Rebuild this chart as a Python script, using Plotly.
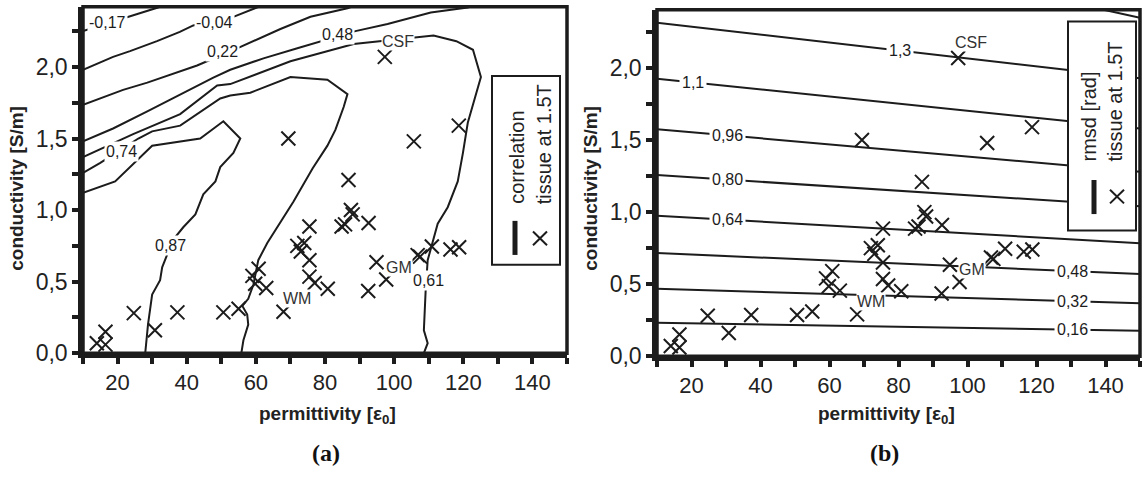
import numpy as np
import plotly.graph_objects as go

# ---------------- tissue samples (permittivity in eps0, conductivity in S/m)
PERMITTIVITY = [14.0, 16.5, 16.5, 24.7, 30.8, 37.3, 50.6, 55.0, 59.0, 60.8,
                59.8, 63.0, 68.0, 69.4, 72.0, 73.0, 74.0, 75.5, 75.5, 75.5,
                77.0, 80.8, 84.8, 85.8, 87.5, 88.0, 86.8, 92.6, 92.5, 94.9,
                97.7, 97.3, 105.7, 106.8, 107.5, 110.9, 116.3, 118.8, 118.7]
CONDUCTIVITY = [0.07, 0.15, 0.06, 0.28, 0.16, 0.285, 0.285, 0.31, 0.54, 0.59,
                0.485, 0.455, 0.29, 1.50, 0.75, 0.71, 0.77, 0.65, 0.885, 0.535,
                0.49, 0.45, 0.885, 0.90, 1.00, 0.97, 1.21, 0.91, 0.435, 0.635,
                0.515, 2.07, 1.48, 0.685, 0.675, 0.745, 0.725, 0.74, 1.59]

TISSUE_NAMES = ["CSF", "GM", "WM"]
TISSUE_NAME_PERM = [101.0, 101.3, 72.0]
TISSUE_NAME_COND = [2.18, 0.60, 0.38]

# ---------------- correlation iso-lines (panel a)
CORR_LEVELS = [-0.17, -0.04, 0.22, 0.48, 0.61, 0.74, 0.87]
CORR_PATH_PERM = [
    [10, 23.6, 31.7, 35],
    [10, 18.7, 23.6, 31.4, 38, 41.9, 53.5, 60.4, 64],
    [10, 21.6, 28.6, 36.1, 43, 54.6, 67.1, 75.8, 86.5, 90],
    [10, 18.7, 28.6, 36.7, 47.7, 52.6, 62.2, 72, 78.7, 88.8, 98.1, 110.6, 121.3, 125],
    [10, 24.5, 38.1, 48.8, 52.6, 70, 88.3, 107.7, 111.4, 118, 122.8, 125.1, 121.3,
     119.9, 118.4, 115.5, 112.6, 109.7, 109.1, 108.6, 109.7, 108.6],
    [10, 15, 26, 30, 38.1, 49.7, 52.6, 58.4, 70, 80.7, 86.5, 85.4, 83, 80.7, 76.4,
     74.3, 70.9, 63.3, 60.7, 59.3, 57.8, 56.1, 57.5, 57.8, 56.4, 55.8],
    [10, 19.3, 30, 43.9, 50.6, 55.5, 53.5, 49.7, 48.3, 44.8, 42.5, 39, 36, 32.9,
     32.3, 30, 28.8, 28],
]
CORR_PATH_COND = [
    [2.25, 2.35, 2.415, 2.45],
    [1.98, 2.07, 2.11, 2.18, 2.245, 2.29, 2.35, 2.415, 2.45],
    [1.735, 1.84, 1.89, 1.95, 2.01, 2.13, 2.265, 2.35, 2.41, 2.44],
    [1.48, 1.57, 1.69, 1.79, 1.925, 1.98, 2.06, 2.13, 2.18, 2.25, 2.30, 2.38, 2.415, 2.44],
    [1.37, 1.53, 1.67, 1.87, 1.88, 2.04, 2.16, 2.21, 2.22, 2.18, 2.12, 1.93, 1.61,
     1.40, 1.20, 1.02, 0.905, 0.65, 0.43, 0.16, 0.07, 0.0],
    [1.26, 1.33, 1.50, 1.55, 1.59, 1.78, 1.80, 1.82, 1.93, 1.91, 1.81, 1.72, 1.56,
     1.45, 1.29, 1.20, 1.06, 0.77, 0.65, 0.48, 0.38, 0.33, 0.27, 0.20, 0.09, 0.0],
    [1.12, 1.20, 1.45, 1.50, 1.62, 1.50, 1.40, 1.30, 1.20, 1.11, 0.97, 0.88, 0.79,
     0.60, 0.51, 0.41, 0.20, 0.0],
]
CORR_LABEL_PERM = [17.2, 48.0, 50.3, 83.6, 110.0, 21.0, 35.2]
CORR_LABEL_COND = [2.31, 2.31, 2.11, 2.23, 0.51, 1.41, 0.755]

# ---------------- rmsd iso-lines (panel b)
RMSD_LEVELS = [0.16, 0.32, 0.48, 0.64, 0.80, 0.96, 1.12, 1.28, 1.44]
RMSD_PATH_PERM = [[10, 150]] * 8 + [[125, 150]]
RMSD_PATH_COND = [
    [0.232, 0.176], [0.468, 0.367], [0.716, 0.570], [0.975, 0.784],
    [1.257, 1.040], [1.576, 1.280], [1.926, 1.580], [2.315, 1.930],
    [2.480, 2.350],
]
RMSD_LABEL_PERM = [130.3, 130.3, 130.3, 30.3, 30.3, 30.3, 20.4, 80.4, None]

# tick values and their printed form on the conductivity axis
COND_TICKS = [0.0, 0.5, 1.0, 1.5, 2.0]
COND_TICK_TEXT = ["0,0", "0,5", "1,0", "1,5", "2,0"]

INK = "#1c1c1c"
SANS = "Liberation Sans, Arial, sans-serif"
W, H = 1142, 482


def level_text(v):
    s = f"{v:.2f}" if abs(v) < 1 else f"{v:.1f}"
    return s.replace(".", ",")


def px(x):
    return x / W


def py(y):
    return 1 - y / H


fig = go.Figure()
annotations = []
shapes = []

# panel a iso-lines
for lev, xs, ys in zip(CORR_LEVELS, CORR_PATH_PERM, CORR_PATH_COND):
    fig.add_trace(go.Scatter(x=xs, y=ys, mode="lines", xaxis="x", yaxis="y",
                             line=dict(color=INK, width=2), hoverinfo="skip",
                             showlegend=False))
for lev, lx, ly in zip(CORR_LEVELS, CORR_LABEL_PERM, CORR_LABEL_COND):
    annotations.append(dict(x=lx, y=ly, xref="x", yref="y", text=level_text(lev),
                            showarrow=False, bgcolor="white", borderpad=1,
                            font=dict(family=SANS, size=16, color=INK)))

# panel b iso-lines
for lev, xs, ys, lx in zip(RMSD_LEVELS, RMSD_PATH_PERM, RMSD_PATH_COND, RMSD_LABEL_PERM):
    fig.add_trace(go.Scatter(x=xs, y=ys, mode="lines", xaxis="x2", yaxis="y2",
                             line=dict(color=INK, width=2), hoverinfo="skip",
                             showlegend=False))
    if lx is not None:
        annotations.append(dict(x=lx, y=float(np.interp(lx, xs, ys)), xref="x2", yref="y2",
                                text=level_text(lev), showarrow=False,
                                bgcolor="white", borderpad=2,
                                font=dict(family=SANS, size=16, color=INK)))

# tissue crosses and names on both panels
for xa, ya in (("x", "y"), ("x2", "y2")):
    fig.add_trace(go.Scatter(x=PERMITTIVITY, y=CONDUCTIVITY, mode="markers",
                             xaxis=xa, yaxis=ya, showlegend=False, hoverinfo="skip",
                             marker=dict(symbol="x-thin", size=14,
                                         line=dict(color=INK, width=2))))
    for name, tx, ty in zip(TISSUE_NAMES, TISSUE_NAME_PERM, TISSUE_NAME_COND):
        annotations.append(dict(x=tx, y=ty, xref=xa, yref=ya, text=name,
                                showarrow=False, bgcolor="white", borderpad=0,
                                font=dict(family=SANS, size=16, color="#333")))

axis_common = dict(showgrid=False, zeroline=False, showline=True, linewidth=4.5,
                   linecolor=INK, ticks="outside", ticklen=6, tickwidth=4,
                   tickcolor=INK)
x_common = dict(range=[10, 150], tick0=0, dtick=20,
                tickfont=dict(family=SANS, size=22, color="#222"),
                minor=dict(dtick=10, ticklen=6, tickwidth=4, tickcolor=INK, ticks="outside"),
                **axis_common)
y_common = dict(tickmode="array", tickvals=COND_TICKS, ticktext=COND_TICK_TEXT,
                tickfont=dict(family=SANS, size=23, color="#222"),
                minor=dict(tickmode="linear", tick0=0, dtick=0.25, ticklen=6,
                           tickwidth=4, tickcolor=INK, ticks="outside"),
                **axis_common)

fig.update_layout(
    width=W, height=H, autosize=False,
    margin=dict(l=0, r=0, t=0, b=0),
    paper_bgcolor="white", plot_bgcolor="white",
    separators=", ",
    xaxis=dict(domain=[px(83), px(567)], anchor="y", **x_common),
    yaxis=dict(domain=[py(363), py(7)], anchor="x", range=[0, 2.42], **y_common),
    xaxis2=dict(domain=[px(657), px(1140)], anchor="y2", **x_common),
    yaxis2=dict(domain=[py(366), py(10)], anchor="x2", range=[0, 2.405], **y_common),
)

# frames along the top and right edges
for xr, yr in (("x domain", "y domain"), ("x2 domain", "y2 domain")):
    shapes.append(dict(type="rect", xref=xr, yref=yr, x0=0, x1=1, y0=0, y1=1,
                       line=dict(color=INK, width=3.5)))

# axis titles and panel tags
for cx in (17, 591):
    annotations.append(dict(x=px(cx), y=py(194), xref="paper", yref="paper",
                            text="<b>conductivity [S/m]</b>", textangle=-90,
                            showarrow=False, xanchor="center", yanchor="middle",
                            font=dict(family=SANS, size=19, color="#222")))
for cx, tag in ((328, "(a)"), (886, "(b)")):
    annotations.append(dict(x=px(cx), y=py(426), xref="paper", yref="paper",
                            text="<b>permittivity [ε<sub>0</sub>]</b>",
                            showarrow=False, xanchor="center", yanchor="middle",
                            font=dict(family=SANS, size=19, color="#222")))
    annotations.append(dict(x=px(cx - 2), y=py(466), xref="paper", yref="paper",
                            text=f"<b>{tag}</b>", showarrow=False,
                            xanchor="center", yanchor="middle",
                            font=dict(family="Liberation Serif, Times New Roman, serif",
                                      size=24, color="#111")))

# rotated key boxes
KEYS = [
    dict(box=(492, 78, 560, 272), title="correlation", tx1=517, tx2=544, tbottom=212,
         bar_x=515, bar_y=(227, 262), cross=(540, 245)),
    dict(box=(1068, 22, 1136, 237), title="rmsd [rad]", tx1=1089, tx2=1115, tbottom=168,
         bar_x=1094, bar_y=(185, 220), cross=(1117, 202)),
]
for k in KEYS:
    x0, y0, x1, y1 = k["box"]
    shapes.append(dict(type="rect", xref="paper", yref="paper", x0=px(x0), x1=px(x1),
                       y0=py(y1), y1=py(y0), fillcolor="white",
                       line=dict(color=INK, width=2)))
    for tx, txt in ((k["tx1"], k["title"]), (k["tx2"], "tissue at 1.5T")):
        annotations.append(dict(x=px(tx), y=py(k["tbottom"]), xref="paper", yref="paper",
                                text=txt, textangle=-90, showarrow=False,
                                xanchor="center", yanchor="bottom",
                                font=dict(family=SANS, size=20, color="#222")))
    shapes.append(dict(type="line", xref="paper", yref="paper",
                       x0=px(k["bar_x"]), x1=px(k["bar_x"]),
                       y0=py(k["bar_y"][0]), y1=py(k["bar_y"][1]),
                       line=dict(color=INK, width=5)))
    cx, cy = k["cross"]
    for d in (1, -1):
        shapes.append(dict(type="line", xref="paper", yref="paper",
                           x0=px(cx - 7), x1=px(cx + 7), y0=py(cy - 7 * d), y1=py(cy + 7 * d),
                           line=dict(color=INK, width=2)))

fig.update_layout(annotations=annotations, shapes=shapes)
fig.write_html("out.html")
